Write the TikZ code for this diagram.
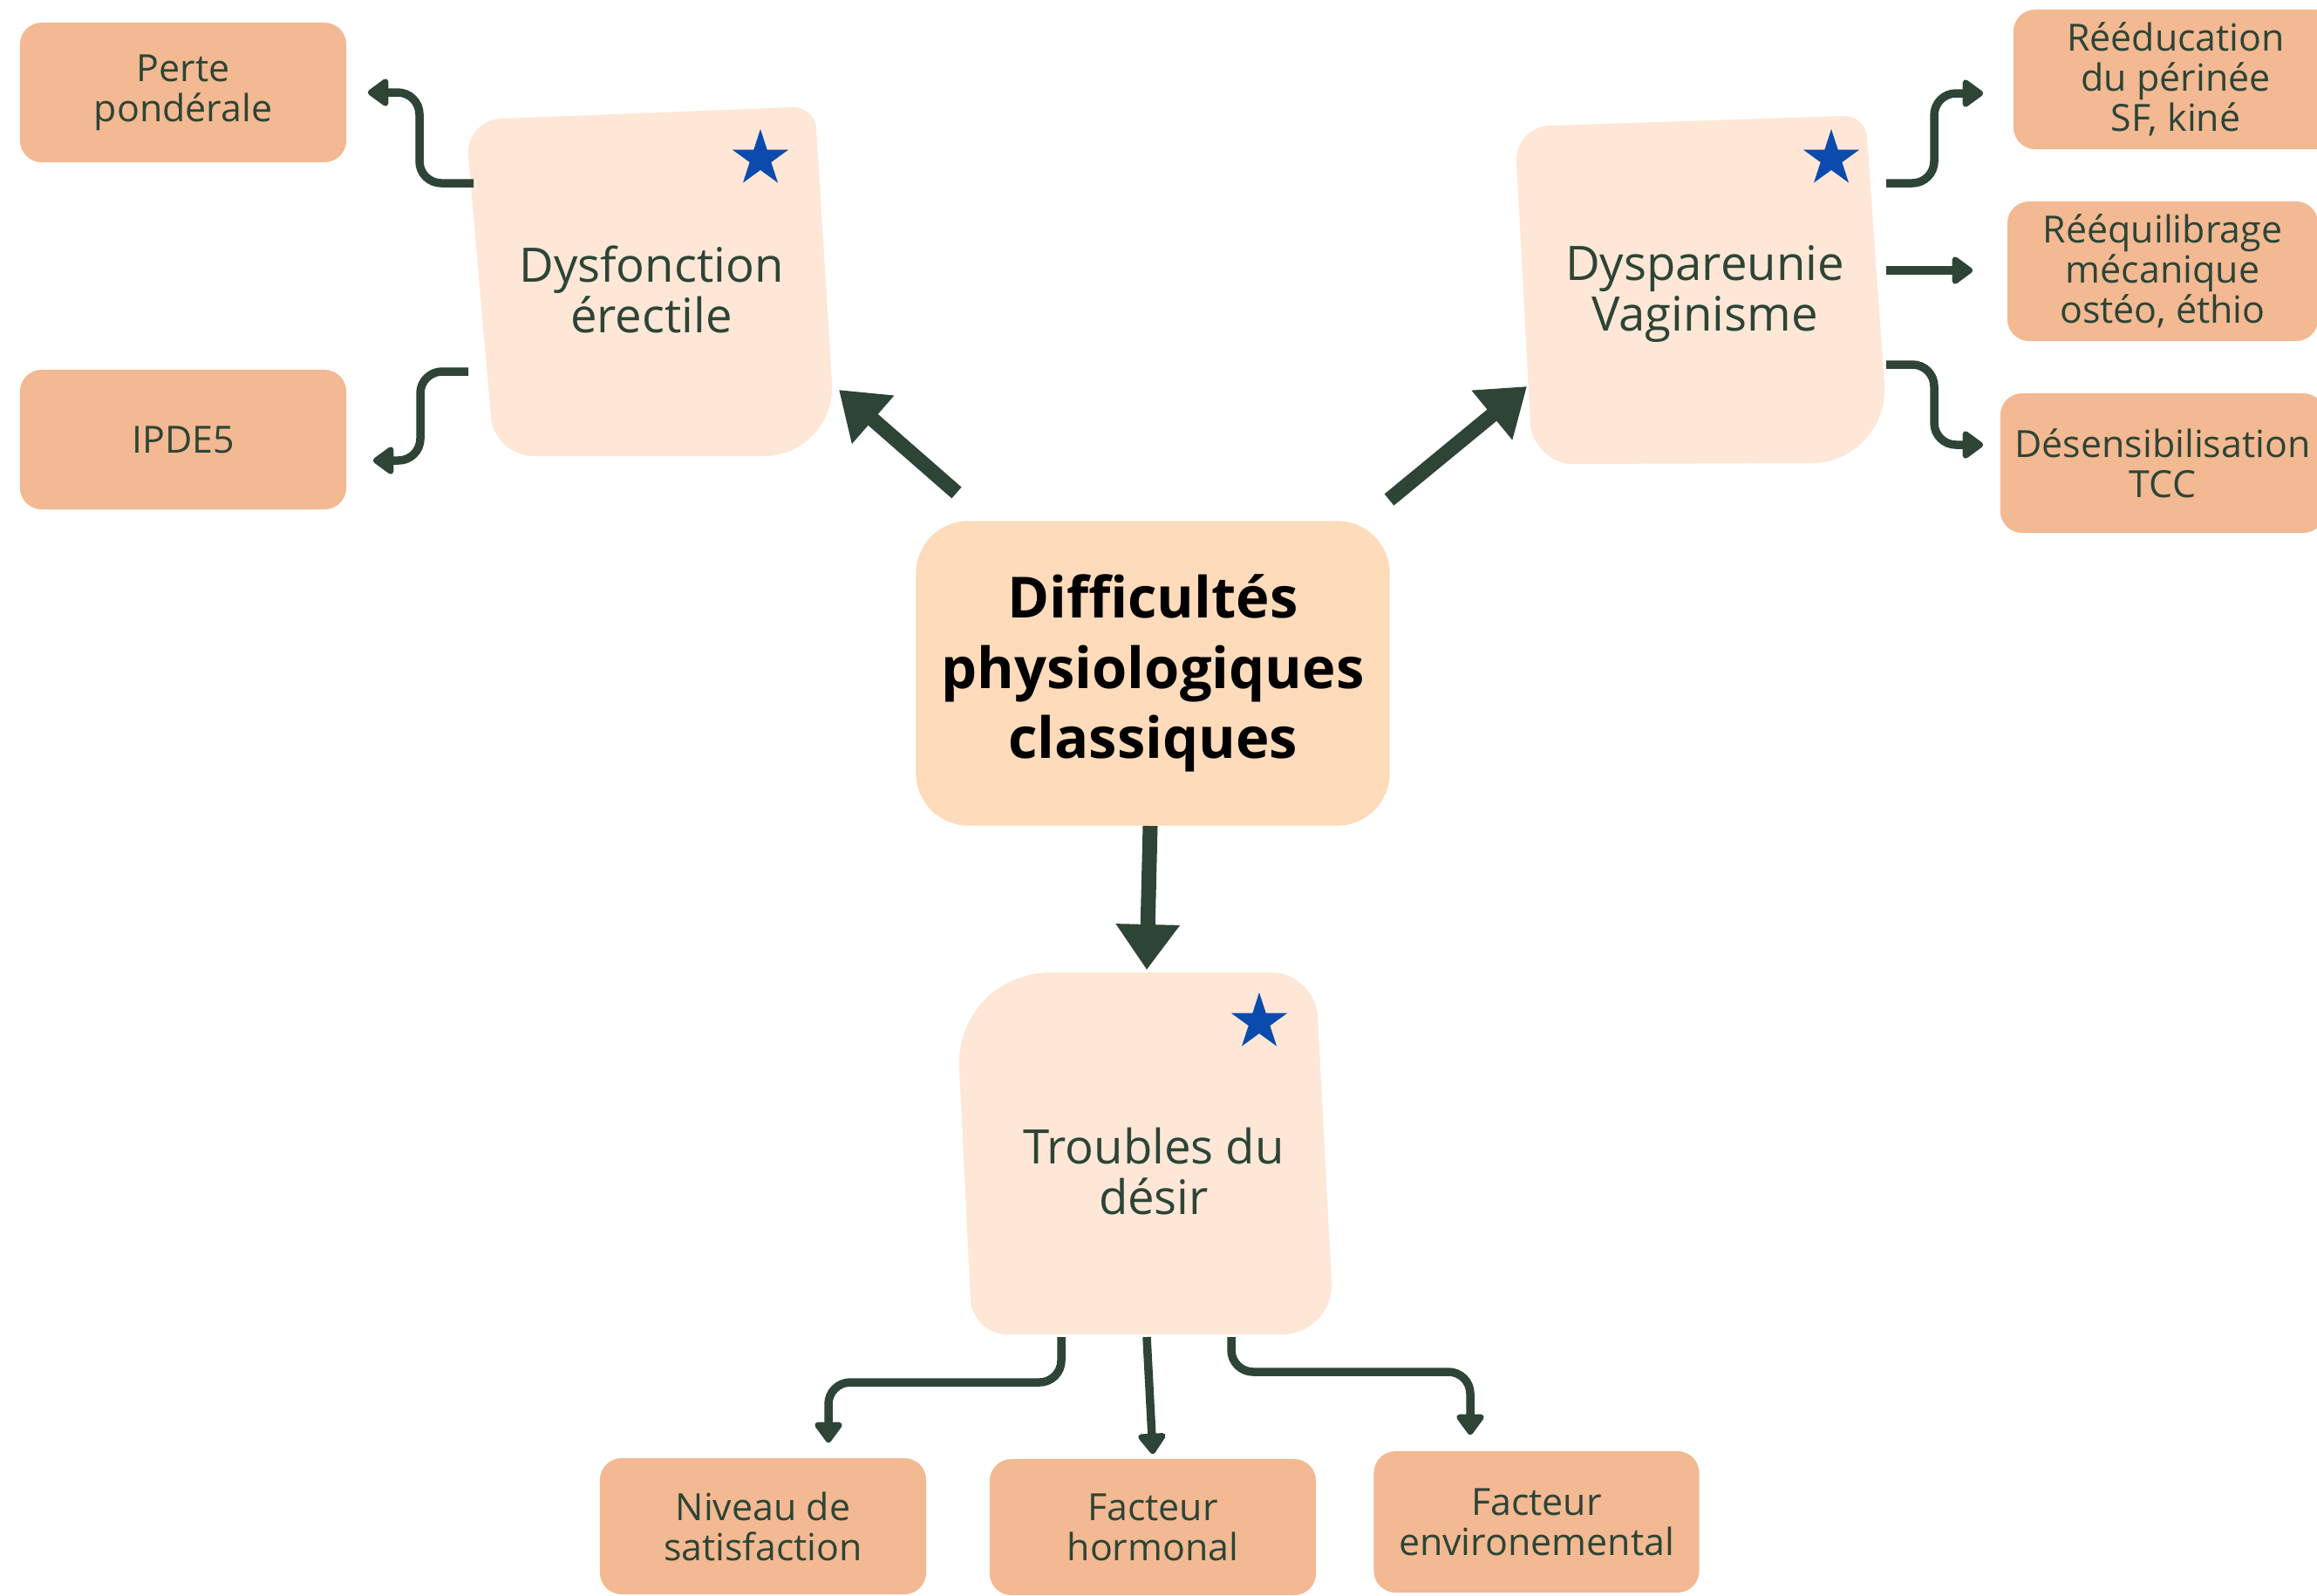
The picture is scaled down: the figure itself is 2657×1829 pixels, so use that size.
\documentclass[tikz,border=0pt]{standalone}
\usepackage{fontspec}
\setmainfont{Open Sans}
\usetikzlibrary{arrows.meta,calc,shapes.geometric}
\definecolor{ink}{HTML}{2D4436}
\definecolor{salmon}{HTML}{F2B992}
\definecolor{blush}{HTML}{FEE7D6}
\definecolor{peach}{HTML}{FDDBBB}
\definecolor{starblue}{HTML}{0B4BAE}

\begin{document}
\begin{tikzpicture}[x=0.01cm, y=-0.01cm,
  leaf/.style={fill=salmon, rounded corners=0.25cm, minimum width=3.74cm, minimum height=1.6cm,
    inner sep=0pt, align=center, text=ink, font=\fontsize{12.2}{13.1}\selectfont},
  topic/.style={align=center, text=ink, font=\fontsize{15.5}{16.4}\selectfont},
  link/.style={draw=ink, line width=0.95mm, rounded corners=0.25cm, -{Triangle[round, width=3.6mm, length=2.6mm]}},
  bigarrow/.style={draw=ink, line width=1.7mm, -{Triangle[width=7mm, length=5.2mm]}},
  starmark/.style={star, star points=5, star point ratio=2.618, fill=starblue, minimum size=0.68cm, inner sep=0pt}]
\useasboundingbox (0,0) rectangle (2657,1829);

% soft boxes
\fill[blush] (574,136) -- (909,123) .. controls (923,122.5) and (935,133) .. (936,147) -- (954,438)
  .. controls (957,485) and (922,523) .. (875,523) -- (612,523) .. controls (587,523) and (565,503) .. (563,478)
  -- (537,178) .. controls (535,156) and (552,137) .. (574,136) -- cycle;
\fill[blush] (1777,144) -- (2114,133) .. controls (2128,132.5) and (2140,143) .. (2141,157) -- (2161,441)
  .. controls (2164,490) and (2126,531) .. (2077,531) -- (1802,532) .. controls (1777,532) and (1756,507) .. (1755,487)
  -- (1739,185) .. controls (1738,163) and (1755,144.6) .. (1777,144) -- cycle;
\fill[blush] (1205,1115) -- (1458,1115) .. controls (1485,1115) and (1509,1137) .. (1511,1165) -- (1527,1470)
  .. controls (1529,1503) and (1503,1530) .. (1470,1530) -- (1155,1530) .. controls (1133,1530) and (1114,1512) .. (1113,1490)
  -- (1100,1225) .. controls (1097,1164) and (1144,1115) .. (1205,1115) -- cycle;

\node[fill=peach, rounded corners=0.6cm, minimum width=5.43cm, minimum height=3.49cm, align=center,
  font=\bfseries\fontsize{18.5}{22.9}\selectfont] (core) at (1322,772) {Difficultés\\physiologiques\\classiques};

\node[topic] (dysf) at (747,332) {Dysfonction\\érectile};
\node[topic] (dysp) at (1955,337) {Dyspareunie\\Vaginisme};
\node[topic] (troub) at (1323,1343) {Troubles du\\désir};

\node[starmark] (st1) at (872,182) {};
\node[starmark] (st2) at (2100,182) {};
\node[starmark] (st3) at (1444,1172) {};

\node[leaf] (perte) at (210,106) {Perte\\pondérale};
\node[leaf] (ipde) at (210,504) {IPDE5};
\node[leaf, minimum width=3.72cm] (reed) at (2495,91) {Rééducation\\du périnée\\SF, kiné};
\node[leaf, minimum width=3.56cm] (reeq) at (2480,311) {Rééquilibrage\\mécanique\\ostéo, éthio};
\node[leaf, minimum width=3.72cm] (desens) at (2480,531) {Désensibilisation\\TCC};
\node[leaf, minimum height=1.56cm] (niveau) at (875,1750) {Niveau de\\satisfaction};
\node[leaf, minimum height=1.56cm] (hormon) at (1322,1751) {Facteur\\hormonal};
\node[leaf, minimum width=3.73cm, minimum height=1.62cm] (envir) at (1762,1745) {Facteur\\environemental};

% main arrows
\draw[bigarrow] ([shift={(-225,-207)}]core.center) -- ([shift={(215,115)}]dysf.center);
\draw[bigarrow] ([shift={(271,-199)}]core.center) -- ([shift={(-204,106)}]dysp.center);
\draw[bigarrow] ([shift={(-3,175)}]core.center) -- ([shift={(-8,-231)}]troub.center);

% side arrows
\draw[link] ([shift={(-204,-122)}]dysf.center) -- ++(-62,0) |- ([shift={(24,0)}]perte.east);
\draw[link] ([shift={(-210,94)}]dysf.center) -- ++(-55,0) |- ([shift={(30,24)}]ipde.east);
\draw[link] ([shift={(208,-127)}]dysp.center) -- ++(55,0) |- ([shift={(-34,16)}]reed.west);
\draw[link] ([shift={(208,-27)}]dysp.center) -- ([shift={(-39,-1)}]reeq.west);
\draw[link] ([shift={(208,81)}]dysp.center) -- ++(55,0) |- ([shift={(-19,-21)}]desens.west);
\draw[link] ([shift={(-106,190)}]troub.center) -- ++(0,52) -| ([shift={(75,-17)}]niveau.north);
\draw[link] ([shift={(-8,190)}]troub.center) -- ([shift={(0,-5)}]hormon.north);
\draw[link] ([shift={(89,190)}]troub.center) -- ++(0,40) -| ([shift={(-76,-18)}]envir.north);
\end{tikzpicture}
\end{document}
